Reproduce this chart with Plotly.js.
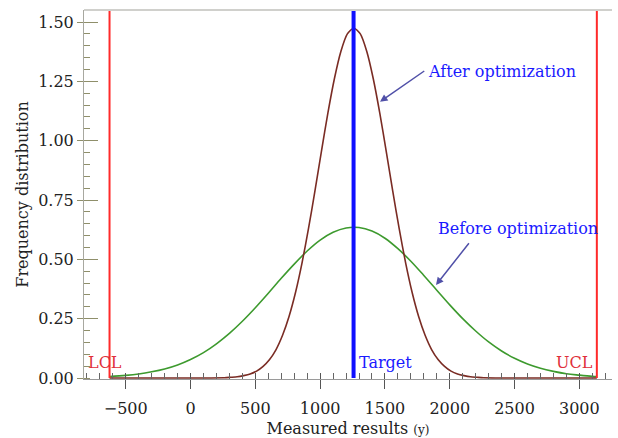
<!DOCTYPE html>
<html>
<head>
<meta charset="utf-8">
<script src="https://cdn.plot.ly/plotly-3.0.1.min.js"></script>
<style>html,body{margin:0;padding:0;background:#fff;}#chart{width:618px;height:438px;}</style>
</head>
<body>
<div id="chart"></div>
<script>
// Control limits and target (measured results)
const LCL = -625;
const TARGET = 1258;
const UCL = 3135;

// After optimization (brown curve)
const xAfter = [-625, 260, 310, 360, 410, 460, 510, 560, 610, 660, 710, 760, 810, 860, 910, 960, 1010, 1060, 1110, 1160, 1210, 1260,
  1310, 1360, 1410, 1460, 1510, 1560, 1610, 1660, 1710, 1760, 1810, 1860, 1910, 1960, 2010, 2060, 2110, 2160, 2210, 2260, 3135];
const yAfter = [0, 0.001, 0.003, 0.005, 0.010, 0.017, 0.029, 0.049, 0.078, 0.120, 0.180, 0.259, 0.360, 0.484, 0.629, 0.788, 0.955, 1.117, 1.261, 1.376, 1.450, 1.475,
  1.450, 1.376, 1.261, 1.117, 0.955, 0.788, 0.629, 0.484, 0.360, 0.259, 0.180, 0.120, 0.078, 0.049, 0.029, 0.017, 0.010, 0.005, 0.003, 0.001, 0];

// Before optimization (green curve)
const xBefore = [-625, -500, -400, -300, -200, -100, 0, 100, 200, 300, 400, 500, 600, 700, 800, 900, 1000, 1100, 1200, 1300,
  1400, 1500, 1600, 1700, 1800, 1900, 2000, 2100, 2200, 2300, 2400, 2500, 2600, 2700, 2800, 2900, 3000, 3100, 3135];
const yBefore = [0.006, 0.011, 0.017, 0.026, 0.038, 0.055, 0.078, 0.107, 0.144, 0.188, 0.239, 0.296, 0.357, 0.420, 0.480, 0.535, 0.581, 0.614, 0.632, 0.634,
  0.619, 0.589, 0.545, 0.492, 0.432, 0.370, 0.308, 0.250, 0.198, 0.152, 0.114, 0.083, 0.059, 0.041, 0.028, 0.018, 0.012, 0.007, 0.006];

const xTickVals = [-500, 0, 500, 1000, 1500, 2000, 2500, 3000];
const xTickText = ['\u2212500', '0', '500', '1000', '1500', '2000', '2500', '3000'];
const yTickVals = [0, 0.25, 0.5, 0.75, 1.0, 1.25, 1.5];
const yTickText = ['0.00', '0.25', '0.50', '0.75', '1.00', '1.25', '1.50'];

const XR = [-822, 3252];
const YR = [-0.0042, 1.5506];
const FONT = 'DejaVu Serif, Liberation Serif, serif';

const traces = [
  {x: xBefore, y: yBefore, mode: 'lines', line: {color: '#3d9a2e', width: 1.6, shape: 'spline'}, hoverinfo: 'skip'},
  {x: xAfter, y: yAfter, mode: 'lines', line: {color: '#7a2c24', width: 1.6, shape: 'spline', smoothing: 0.6}, hoverinfo: 'skip'},
  {x: [LCL, LCL], y: [0, YR[1]], mode: 'lines', line: {color: '#ff2a2a', width: 2}, hoverinfo: 'skip'},
  {x: [UCL, UCL], y: [0, YR[1]], mode: 'lines', line: {color: '#ff2a2a', width: 2}, hoverinfo: 'skip'},
  {x: [TARGET, TARGET], y: [0, YR[1]], mode: 'lines', line: {color: '#1010ff', width: 4}, hoverinfo: 'skip'},
  {x: [null], y: [null], xaxis: 'x2', yaxis: 'y2', mode: 'lines', hoverinfo: 'skip'}
];

const layout = {
  width: 618, height: 438,
  margin: {l: 84, r: 6, t: 10, b: 59},
  paper_bgcolor: '#fff', plot_bgcolor: '#fff',
  showlegend: false,
  font: {family: FONT, size: 16, color: '#222'},
  xaxis: {
    range: XR, showgrid: false, zeroline: false,
    showline: true, linecolor: '#9a9a9a', linewidth: 1,
    tickmode: 'array', tickvals: xTickVals, ticktext: xTickText,
    ticks: 'outside', ticklen: 9, tickcolor: '#555', tickwidth: 1,
    ticklabelstandoff: 6,
    minor: {dtick: 100, tick0: 0, ticks: 'inside', ticklen: 6, tickcolor: '#666', tickwidth: 1},
    tickfont: {family: FONT, size: 16, color: '#222'},
    title: {text: 'Measured results <span style="font-size:12px">(y)</span>', font: {family: FONT, size: 16, color: '#222'}, standoff: 9}
  },
  xaxis2: {
    range: XR, overlaying: 'x', anchor: 'y', side: 'bottom',
    showgrid: false, zeroline: false, showline: false, showticklabels: false,
    tickmode: 'linear', tick0: 0, dtick: 500, ticks: 'inside', ticklen: 6, tickcolor: '#555', tickwidth: 1
  },
  yaxis: {
    range: YR, showgrid: false, zeroline: false,
    showline: true, linecolor: '#a8a8a0', linewidth: 1,
    tickmode: 'array', tickvals: yTickVals, ticktext: yTickText,
    ticks: 'outside', ticklen: 6, tickcolor: '#8f8f6a', tickwidth: 1,
    minor: {dtick: 0.05, tick0: 0, ticks: 'inside', ticklen: 6, tickcolor: '#8f8f6a', tickwidth: 1},
    tickfont: {family: FONT, size: 16, color: '#222'},
    title: {text: 'Frequency distribution', font: {family: FONT, size: 16, color: '#222'}, standoff: 5}
  },
  yaxis2: {
    range: YR, overlaying: 'y', anchor: 'x', side: 'left',
    showgrid: false, zeroline: false, showline: false, showticklabels: false,
    tickmode: 'linear', tick0: 0, dtick: 0.25, ticks: 'inside', ticklen: 14, tickcolor: '#8f8f6a', tickwidth: 1
  },
  shapes: [
    {type: 'line', xref: 'paper', yref: 'paper', x0: 0, x1: 1, y0: 1, y1: 1, line: {color: '#d0d0cc', width: 2}}
  ],
  annotations: [
    {x: 1818, y: 1.290, xref: 'x', yref: 'y', text: 'After optimization', showarrow: false, xanchor: 'left', yanchor: 'middle',
      font: {family: FONT, size: 16, color: '#1a1aff'}},
    {x: 1462, y: 1.164, ax: 1815, ay: 1.298, xref: 'x', yref: 'y', axref: 'x', ayref: 'y', text: '', showarrow: true,
      arrowhead: 2, arrowsize: 1, arrowwidth: 1.5, arrowcolor: '#5050a8', standoff: 0},
    {x: 1895, y: 0.632, xref: 'x', yref: 'y', text: 'Before optimization', showarrow: false, xanchor: 'left', yanchor: 'middle',
      font: {family: FONT, size: 16, color: '#1a1aff'}},
    {x: 1894, y: 0.392, ax: 2157, ay: 0.574, xref: 'x', yref: 'y', axref: 'x', ayref: 'y', text: '', showarrow: true,
      arrowhead: 2, arrowsize: 1, arrowwidth: 1.5, arrowcolor: '#5050a8', standoff: 0},
    {x: 1285, y: 0.067, xref: 'x', yref: 'y', text: 'Target', showarrow: false, xanchor: 'left', yanchor: 'middle',
      font: {family: FONT, size: 16, color: '#1a1aff'}},
    {x: -660, y: 0.067, xref: 'x', yref: 'y', text: 'LCL', showarrow: false, xanchor: 'center', yanchor: 'middle',
      font: {family: FONT, size: 16, color: '#e0303a'}},
    {x: 2959, y: 0.067, xref: 'x', yref: 'y', text: 'UCL', showarrow: false, xanchor: 'center', yanchor: 'middle',
      font: {family: FONT, size: 16, color: '#e0303a'}}
  ]
};

Plotly.newPlot('chart', traces, layout, {staticPlot: true, displayModeBar: false});
</script>
</body>
</html>
